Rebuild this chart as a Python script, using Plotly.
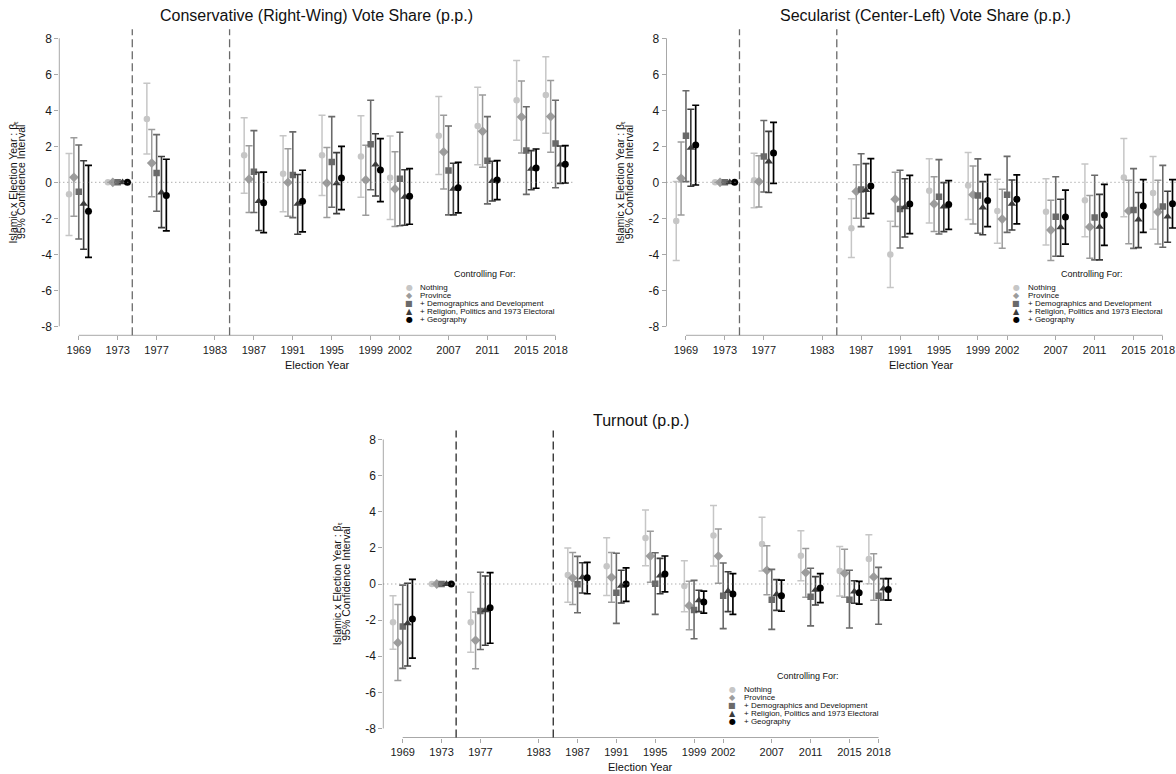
import plotly.graph_objects as go

W, H = 1176, 774
FONT = "Liberation Sans, Arial, sans-serif"

# ---------------- data ----------------
years = [1969, 1973, 1977, 1987, 1991, 1995, 1999, 2002, 2007, 2011, 2015, 2018]
tick_years = [1969, 1973, 1977, 1983, 1987, 1991, 1995, 1999, 2002, 2007, 2011, 2015, 2018]
tick_labels = [str(t) for t in tick_years]
y_ticks = [-8, -6, -4, -2, 0, 2, 4, 6, 8]
y_tick_labels = [str(v) for v in y_ticks]   # ASCII hyphen, as in the reference

series_names = ["Nothing", "Province", "+ Demographics and Development",
                "+ Religion, Politics and 1973 Electoral", "+ Geography"]

# Conservative (Right-Wing) Vote Share
cons_nothing_est = [-0.67, 0, 3.52, 1.50, 0.48, 1.50, 1.44, 0.25, 2.59, 3.13, 4.56, 4.85]
cons_nothing_lo = [-2.96, 0, 1.57, -0.61, -1.63, -0.74, -0.83, -2.07, 0.44, 0.98, 2.33, 2.72]
cons_nothing_hi = [1.60, 0, 5.50, 3.59, 2.59, 3.72, 3.70, 2.57, 4.76, 5.28, 6.76, 6.98]
cons_prov_est = [0.28, 0, 1.07, 0.17, -0.01, -0.04, 0.13, -0.37, 1.69, 2.83, 3.63, 3.65]
cons_prov_lo = [-1.89, 0, -0.80, -1.68, -1.89, -1.96, -1.83, -2.46, -0.37, 0.83, 1.63, 1.67]
cons_prov_hi = [2.48, 0, 2.93, 2.03, 1.86, 1.93, 2.06, 1.70, 3.72, 4.85, 5.63, 5.65]
cons_demo_est = [-0.52, 0, 0.52, 0.59, 0.41, 1.13, 2.11, 0.20, 0.65, 1.20, 1.76, 2.15]
cons_demo_lo = [-3.15, 0, -1.61, -1.68, -1.96, -1.39, -0.41, -2.41, -1.81, -1.20, -0.67, -0.30]
cons_demo_hi = [2.07, 0, 2.65, 2.87, 2.80, 3.65, 4.56, 2.78, 3.13, 3.65, 4.20, 4.56]
cons_reli_est = [-1.20, 0, -0.57, -1.05, -1.20, -0.06, 0.98, -0.81, -0.37, 0.07, 0.74, 0.98]
cons_reli_lo = [-3.72, 0, -2.52, -2.68, -2.89, -1.74, -0.76, -2.39, -1.81, -1.04, -0.41, -0.06]
cons_reli_hi = [1.20, 0, 1.43, 0.55, 0.43, 1.65, 2.70, 0.70, 1.06, 1.17, 1.76, 2.02]
cons_geog_est = [-1.61, 0, -0.74, -1.13, -1.05, 0.24, 0.69, -0.77, -0.30, 0.13, 0.80, 1.00]
cons_geog_lo = [-4.17, 0, -2.70, -2.80, -2.75, -1.52, -1.07, -2.33, -1.70, -0.96, -0.33, -0.04]
cons_geog_hi = [0.94, 0, 1.28, 0.56, 0.67, 2.00, 2.43, 0.76, 1.11, 1.20, 1.85, 2.04]

# Secularist (Center-Left) Vote Share
secu_nothing_est = [-2.15, 0, 0.11, -2.55, -4.01, -0.47, -0.18, -1.59, -1.63, -1.00, 0.26, -0.59]
secu_nothing_lo = [-4.35, 0, -1.41, -4.18, -5.85, -2.26, -2.06, -3.39, -3.48, -3.02, -1.91, -2.61]
secu_nothing_hi = [0.04, 0, 1.61, -0.91, -2.17, 1.31, 1.65, 0.17, 0.20, 1.02, 2.43, 1.43]
secu_prov_est = [0.22, 0, 0.04, -0.51, -0.94, -1.20, -0.69, -2.04, -2.65, -2.48, -1.59, -1.65]
secu_prov_lo = [-1.81, 0, -1.37, -2.00, -2.46, -2.74, -2.31, -3.67, -4.35, -4.22, -3.41, -3.43]
secu_prov_hi = [2.24, 0, 1.48, 0.97, 0.56, 0.31, 0.91, -0.39, -1.00, -0.74, 0.11, 0.11]
secu_demo_est = [2.59, 0, 1.43, -0.40, -1.48, -0.80, -0.74, -0.69, -1.91, -1.96, -1.54, -1.35]
secu_demo_lo = [0.04, 0, -0.54, -2.46, -3.65, -2.87, -2.83, -2.78, -4.11, -4.31, -3.67, -3.61]
secu_demo_hi = [5.09, 0, 3.43, 1.59, 0.67, 1.26, 1.30, 1.44, 0.31, 0.39, 0.76, 0.94]
secu_reli_est = [1.91, 0, 1.15, -0.44, -1.39, -1.35, -1.40, -1.20, -2.50, -2.48, -2.07, -1.91]
secu_reli_lo = [-0.22, 0, -0.57, -2.00, -3.04, -2.74, -2.91, -2.65, -4.11, -4.31, -3.63, -3.33]
secu_reli_hi = [4.06, 0, 2.83, 1.04, 0.20, -0.02, 0.04, 0.13, -0.94, -0.67, -0.57, -0.50]
secu_geog_est = [2.07, 0, 1.63, -0.20, -1.21, -1.23, -1.01, -0.94, -1.93, -1.81, -1.31, -1.19]
secu_geog_lo = [-0.15, 0, -0.06, -1.74, -2.85, -2.61, -2.46, -2.31, -3.44, -3.50, -2.78, -2.54]
secu_geog_hi = [4.28, 0, 3.33, 1.31, 0.39, 0.09, 0.43, 0.41, -0.44, -0.11, 0.15, 0.15]

# Turnout
turn_nothing_est = [-2.12, 0, -2.12, 0.50, 0.98, 2.55, -0.11, 2.68, 2.21, 1.57, 0.72, 1.38]
turn_nothing_lo = [-3.62, 0, -3.78, -1.01, -0.63, 1.01, -1.53, 1.00, 0.72, 0.18, -0.66, 0.02]
turn_nothing_hi = [-0.65, 0, -0.46, 1.99, 2.56, 4.10, 1.29, 4.34, 3.69, 2.95, 2.08, 2.73]
turn_prov_est = [-3.25, 0, -3.12, 0.33, 0.37, 1.55, -1.20, 1.55, 0.76, 0.63, 0.59, 0.39]
turn_prov_lo = [-5.35, 0, -4.69, -1.13, -1.01, 0.09, -2.53, 0.04, -0.59, -0.74, -0.74, -0.90]
turn_prov_hi = [-1.13, 0, -1.55, 1.75, 1.75, 2.92, 0.15, 3.04, 2.12, 1.97, 1.92, 1.68]
turn_demo_est = [-2.36, 0, -1.49, -0.02, -0.48, 0.02, -1.44, -0.65, -0.87, -0.70, -0.87, -0.65]
turn_demo_lo = [-4.67, 0, -3.63, -1.59, -2.18, -1.68, -3.03, -2.47, -2.51, -2.32, -2.44, -2.23]
turn_demo_hi = [-0.06, 0, 0.65, 1.53, 1.70, 1.73, 0.20, 1.16, 0.81, 0.87, 0.76, 0.92]
turn_reli_est = [-2.18, 0, -1.46, 0.37, -0.11, 0.46, -0.90, -0.39, -0.57, -0.33, -0.42, -0.26]
turn_reli_lo = [-4.54, 0, -3.39, -0.50, -1.05, -0.54, -1.53, -1.53, -1.46, -1.16, -1.07, -0.89]
turn_reli_hi = [0.04, 0, 0.44, 1.18, 0.76, 1.42, -0.35, 0.68, 0.24, 0.41, 0.18, 0.30]
turn_geog_est = [-1.94, 0, -1.31, 0.35, 0.00, 0.55, -1.00, -0.55, -0.65, -0.22, -0.48, -0.30]
turn_geog_lo = [-4.11, 0, -3.28, -0.54, -0.96, -0.44, -1.61, -1.68, -1.51, -1.03, -1.11, -0.89]
turn_geog_hi = [0.26, 0, 0.63, 1.20, 0.89, 1.55, -0.39, 0.57, 0.22, 0.57, 0.15, 0.30]

panel_data = {
    "cons": [(cons_nothing_est, cons_nothing_lo, cons_nothing_hi),
             (cons_prov_est, cons_prov_lo, cons_prov_hi),
             (cons_demo_est, cons_demo_lo, cons_demo_hi),
             (cons_reli_est, cons_reli_lo, cons_reli_hi),
             (cons_geog_est, cons_geog_lo, cons_geog_hi)],
    "secu": [(secu_nothing_est, secu_nothing_lo, secu_nothing_hi),
             (secu_prov_est, secu_prov_lo, secu_prov_hi),
             (secu_demo_est, secu_demo_lo, secu_demo_hi),
             (secu_reli_est, secu_reli_lo, secu_reli_hi),
             (secu_geog_est, secu_geog_lo, secu_geog_hi)],
    "turn": [(turn_nothing_est, turn_nothing_lo, turn_nothing_hi),
             (turn_prov_est, turn_prov_lo, turn_prov_hi),
             (turn_demo_est, turn_demo_lo, turn_demo_hi),
             (turn_reli_est, turn_reli_lo, turn_reli_hi),
             (turn_geog_est, turn_geog_lo, turn_geog_hi)],
}

# ---------------- styles ----------------
offsets = [-1.0, -0.5, 0.0, 0.5, 1.0]
colors = ["#c6c6c6", "#9c9c9c", "#6a6a6a", "#3c3c3c", "#000000"]
symbols = ["circle", "diamond", "square", "triangle-up", "circle"]
sizes = [6.5, 7.5, 6.5, 7.5, 7]
bar_thick = [1.5, 1.5, 1.6, 1.6, 1.7]
legend_glyphs = ["\u25CF", "\u25C6", "\u25A0", "\u25B2", "\u25CF"]
AXIS_COLOR = "#a8a8a8"
Y_TITLE_1 = "Islamic x Election Year : \u03b2\u209c"
Y_TITLE_2 = "95% Confidence Interval"

panels = [
    dict(key="cons", title="Conservative (Right-Wing) Vote Share (p.p.)",
         xpx=(59.3, 575.0), ypx=(29.3, 335.3), xr=(1967, 2020),
         dash_color="#6a6a6a", title_xy=(316, 16)),
    dict(key="secu", title="Secularist (Center-Left) Vote Share (p.p.)",
         xpx=(666.5, 1176.0), ypx=(29.3, 335.3), xr=(1967, 2019.36),
         dash_color="#6a6a6a", title_xy=(925, 16)),
    dict(key="turn", title="Turnout (p.p.)",
         xpx=(383.3, 898.0), ypx=(430.5, 737.5), xr=(1967, 2020),
         dash_color="#2a2a2a", title_xy=(641, 420)),
]

fig = go.Figure()
shapes = []
annotations = []
layout_axes = {}


def px_x(p):
    return p / W


def px_y(p):
    return 1 - p / H


for i, pn in enumerate(panels, start=1):
    s = "" if i == 1 else str(i)
    xa, ya = "x" + s, "y" + s
    x0p, x1p = pn["xpx"]
    y0p, y1p = pn["ypx"]
    layout_axes["xaxis" + s] = dict(
        domain=[px_x(x0p), px_x(x1p)], range=list(pn["xr"]), anchor=ya,
        showgrid=False, zeroline=False, showline=False,
        tickmode="array", tickvals=tick_years, ticktext=tick_labels,
        ticks="outside", ticklen=4, tickcolor=AXIS_COLOR, tickwidth=1,
        tickfont=dict(family=FONT, size=11, color="#1a1a1a"), fixedrange=True)
    layout_axes["yaxis" + s] = dict(
        domain=[px_y(y1p), px_y(y0p)], range=[-8.5, 8.5], anchor=xa,
        showgrid=False, zeroline=False, showline=False,
        tickmode="array", tickvals=y_ticks, ticktext=y_tick_labels,
        ticks="outside", ticklen=4, tickcolor=AXIS_COLOR, tickwidth=1,
        tickfont=dict(family=FONT, size=12, color="#1a1a1a"), fixedrange=True)

    # axis lines (Stata style: span only the tick range)
    shapes.append(dict(type="line", xref=xa + " domain", yref=ya, x0=0, x1=0,
                       y0=y_ticks[0], y1=y_ticks[-1],
                       line=dict(color=AXIS_COLOR, width=1)))
    shapes.append(dict(type="line", xref=xa, yref=ya + " domain",
                       x0=tick_years[0], x1=tick_years[-1], y0=0, y1=0,
                       line=dict(color=AXIS_COLOR, width=1)))
    # zero reference line
    shapes.append(dict(type="line", xref=xa + " domain", yref=ya, x0=0, x1=1,
                       y0=0, y1=0, line=dict(color="#8a8a8a", width=1, dash="1px,3px")))
    # period separators
    for xv in (1974.5, 1984.5):
        shapes.append(dict(type="line", xref=xa, yref=ya + " domain",
                           x0=xv, x1=xv, y0=0, y1=1,
                           line=dict(color=pn["dash_color"], width=1.3, dash="8px,4px")))

    # data traces
    for j, (est, lo, hi) in enumerate(panel_data[pn["key"]]):
        fig.add_trace(go.Scatter(
            x=[yr + offsets[j] for yr in years], y=est,
            mode="markers", xaxis=xa, yaxis=ya, showlegend=False,
            name=series_names[j],
            marker=dict(symbol=symbols[j], size=sizes[j], color=colors[j],
                        line=dict(width=0)),
            error_y=dict(type="data", symmetric=False,
                         array=[h - e for h, e in zip(hi, est)],
                         arrayminus=[e - l for e, l in zip(est, lo)],
                         color=colors[j], thickness=bar_thick[j], width=3.5),
        ))

    # titles
    tx, ty = pn["title_xy"]
    annotations.append(dict(text=pn["title"], xref="paper", yref="paper",
                            x=px_x(tx), y=px_y(ty), xanchor="center", yanchor="middle",
                            showarrow=False, font=dict(family=FONT, size=16, color="#111")))
    cy = (y0p + y1p) / 2
    annotations.append(dict(text=Y_TITLE_1, xref="paper", yref="paper",
                            x=px_x(x0p - 46), y=px_y(cy),
                            xanchor="center", yanchor="middle", textangle=-90,
                            showarrow=False, font=dict(family=FONT, size=10.5, color="#111")))
    annotations.append(dict(text=Y_TITLE_2, xref="paper", yref="paper",
                            x=px_x(x0p - 37.5), y=px_y(cy),
                            xanchor="center", yanchor="middle", textangle=-90,
                            showarrow=False, font=dict(family=FONT, size=10.5, color="#111")))
    cx = (x0p + min(x1p, x0p + 515.5)) / 2
    annotations.append(dict(text="Election Year", xref="paper", yref="paper",
                            x=px_x(cx), y=px_y(y1p + 29.5), xanchor="center", yanchor="middle",
                            showarrow=False, font=dict(family=FONT, size=11, color="#111")))

    # legend (inside plot, lower right)
    annotations.append(dict(text="Controlling For:", xref=xa, yref=ya, x=2010.7, y=-5.12,
                            xanchor="center", yanchor="middle", showarrow=False,
                            font=dict(family=FONT, size=9, color="#111")))
    for j in range(5):
        ly = -5.82 - 0.455 * j
        annotations.append(dict(text=legend_glyphs[j], xref=xa, yref=ya, x=2002.95, y=ly,
                                xanchor="center", yanchor="middle", showarrow=False,
                                font=dict(family="DejaVu Sans", size=8, color=colors[j])))
        annotations.append(dict(text=series_names[j], xref=xa, yref=ya, x=2003.9, y=ly,
                                xanchor="left", yanchor="middle", showarrow=False,
                                font=dict(family=FONT, size=8, color="#111")))

fig.update_layout(
    width=W, height=H, margin=dict(l=0, r=0, t=0, b=0),
    paper_bgcolor="white", plot_bgcolor="white",
    showlegend=False, shapes=shapes, annotations=annotations,
    **layout_axes,
)

fig.write_html("out.html")
